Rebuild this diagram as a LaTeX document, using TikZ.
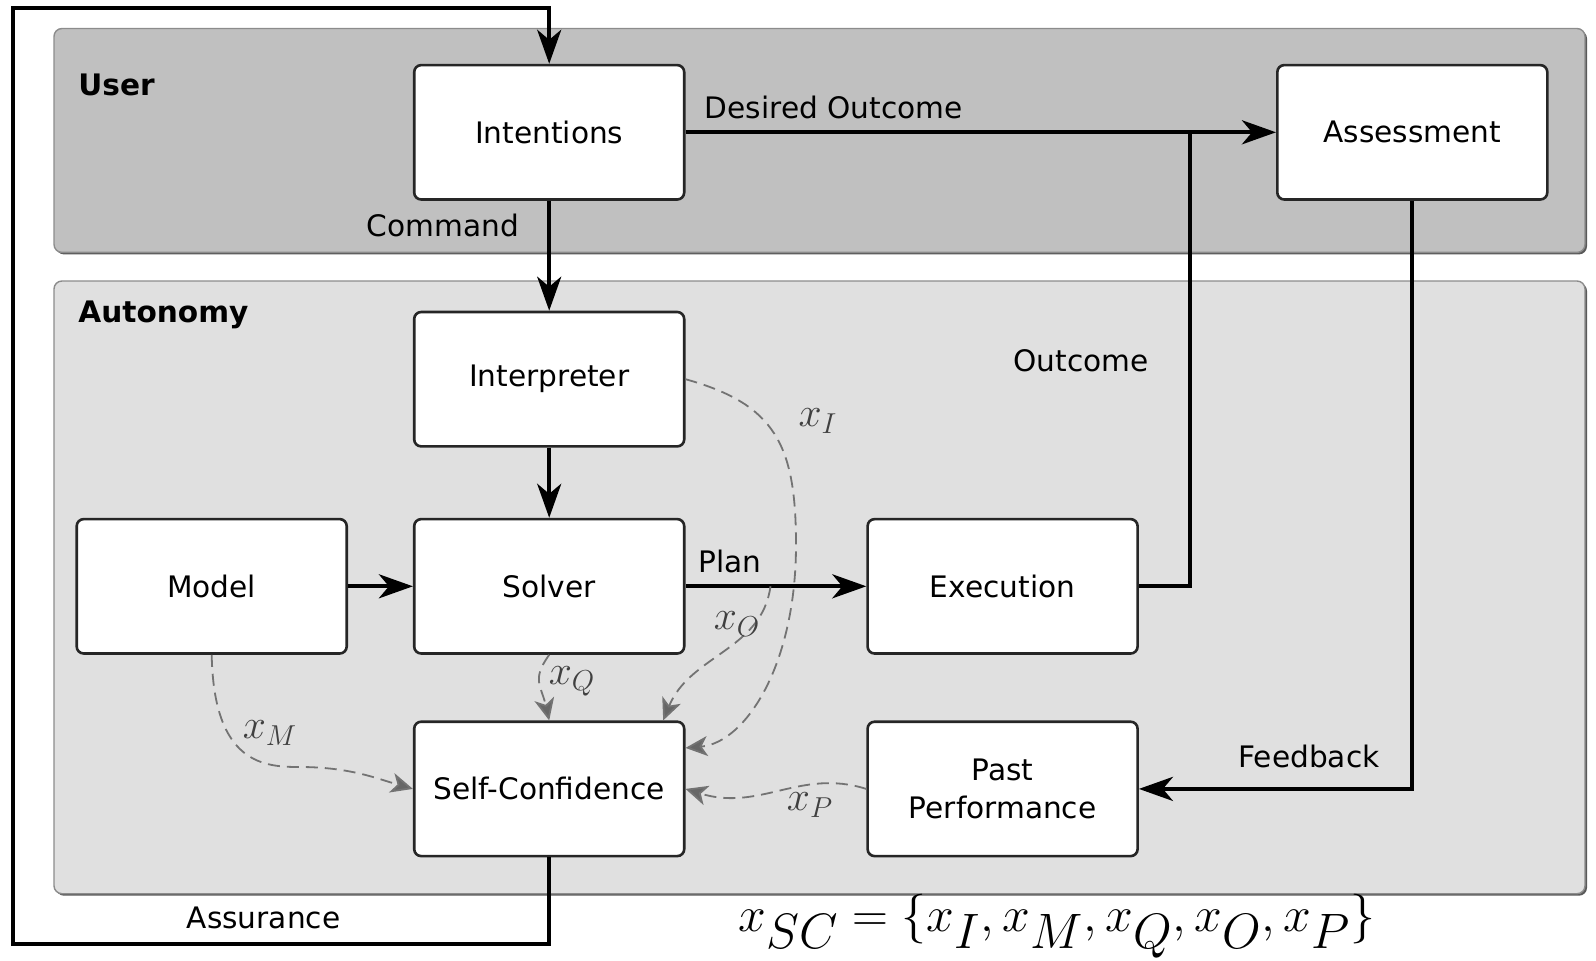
\documentclass[tikz,border=0pt]{standalone}
\usepackage[no-math]{fontspec}
\setmainfont{DejaVu Sans}
\usetikzlibrary{arrows.meta,calc}
\definecolor{userfill}{HTML}{C0C0C0}
\definecolor{autofill}{HTML}{E0E0E0}
\newcommand\fs{\fontsize{14.8pt}{18.9pt}\selectfont}
\newcommand\mfs{\fontsize{20pt}{22pt}\selectfont}
\begin{document}
\begin{tikzpicture}[x=0.5pt,y=-0.5pt,
  blk/.style={draw=black!85, line width=1.3pt, fill=white, rounded corners=3.5pt,
    minimum width=135pt, minimum height=67.2pt, align=center, font=\fs, inner sep=0pt},
  flow/.style={line width=2pt, draw=black, line join=miter},
  tip/.style={-{Stealth[length=17pt,width=12pt,inset=5pt]}},
  conf/.style={draw=black!55, line width=0.9pt, dash pattern=on 6pt off 3.5pt,
    -{Stealth[length=11pt,width=10pt,inset=3pt,fill=black!60]}},
  lbl/.style={font=\fs, inner sep=0pt},
  mlbl/.style={font=\mfs, text=black!75, inner sep=0pt},
  panel/.style={draw=black!45, line width=0.7pt, rounded corners=4pt},
  shade/.style={fill=black!65, rounded corners=4pt}]
\useasboundingbox (0,0) rectangle (1596,960);
% panels
\fill[shade] (56,30.5) rectangle (1587,254.4);
\draw[panel, fill=userfill] (54,28.5) rectangle (1585,252.4);
\fill[shade] (56,283) rectangle (1587,895.7);
\draw[panel, fill=autofill] (54,281) rectangle (1585,893.7);
\node[lbl, anchor=west, font=\fs\bfseries] (userlbl) at (78,84.5) {User};
\node[lbl, anchor=west, font=\fs\bfseries] (autolbl) at (78,314.5) {Autonomy};
% boxes
\node[blk] (int) at (549.2,132.3) {Intentions};
\node[blk] (ass) at (1412.3,132.3) {Assessment};
\node[blk] (interp) at (549.2,379.2) {Interpreter};
\node[blk] (solver) at (549.2,586.3) {Solver};
\node[blk] (model) at (211.7,586.3) {Model};
\node[blk] (exec) at (1002.6,586.3) {Execution};
\node[blk] (sc) at (549.2,788.9) {Self-Confidence};
\node[blk] (pp) at (1002.6,788.9) {Past\\Performance};
% coordinates
\coordinate (lb) at (13.2,943.6);
\coordinate (lt) at (13.2,8.1);
\coordinate (junc) at ($(int.east)!0.8545!(ass.west)$);
\coordinate (ostart) at ($(solver.east)!0.47!(exec.west)$);
\coordinate (imid) at (796,545);
\coordinate (mmid) at (300,767);
% solid flows
\draw[flow, tip] (int.east) -- (ass.west);
\draw[flow] (exec.east) -| (junc);
\draw[flow, tip] (int.south) -- (interp.north);
\draw[flow, tip] (interp.south) -- (solver.north);
\draw[flow, tip] (model.east) -- (solver.west);
\draw[flow, tip] (solver.east) -- (exec.west);
\draw[flow, tip] (ass.south) |- (pp.east);
\draw[flow, tip] (sc.south) -- (sc.south |- lb) -- (lb) -- (lt) -- (lt -| int.north) -- (int.north);
% dashed confidence inputs
\draw[conf] (interp.east) .. controls +(90,25) and +(0,-100) .. (imid)
  .. controls +(0,120) and +(60,-5) .. ($(sc.east)+(0,-41)$);
\draw[conf] (ostart) .. controls (762,650) and (690,655) .. ($(sc.north)+(114,0)$);
\draw[conf] (solver.south) .. controls +(-18,25) and +(-8,-35) .. (sc.north);
\draw[conf] (model.south) .. controls +(2,110) and +(-35,0) .. (mmid)
  .. controls +(50,0) and +(-35,-10) .. (sc.west);
\draw[conf] (pp.west) .. controls (800,768) and (760,812) .. (sc.east);
% labels
\node[lbl] (do) at (833.7,107.9) {Desired Outcome};
\node[lbl] (cmd) at (442.8,225) {Command};
\node[lbl] (out) at (1081,360.3) {Outcome};
\node[lbl] (plan) at (729.8,561.9) {Plan};
\node[lbl] (fb) at (1309,756.3) {Feedback};
\node[lbl] (asr) at (263.6,918.2) {Assurance};
\node[mlbl] (xi) at (818,421) {$x_I$};
\node[mlbl] (xo) at (737,624) {$x_O$};
\node[mlbl] (xq) at (572,681) {$x_Q$};
\node[mlbl] (xm) at (270,733) {$x_M$};
\node[mlbl] (xp) at (810,805) {$x_P$};
\node[inner sep=0pt, font=\fontsize{33pt}{36pt}\selectfont] (form) at (1057,926) {$x_{SC} = \{x_I, x_M, x_Q, x_O, x_P\}$};
\end{tikzpicture}
\end{document}
